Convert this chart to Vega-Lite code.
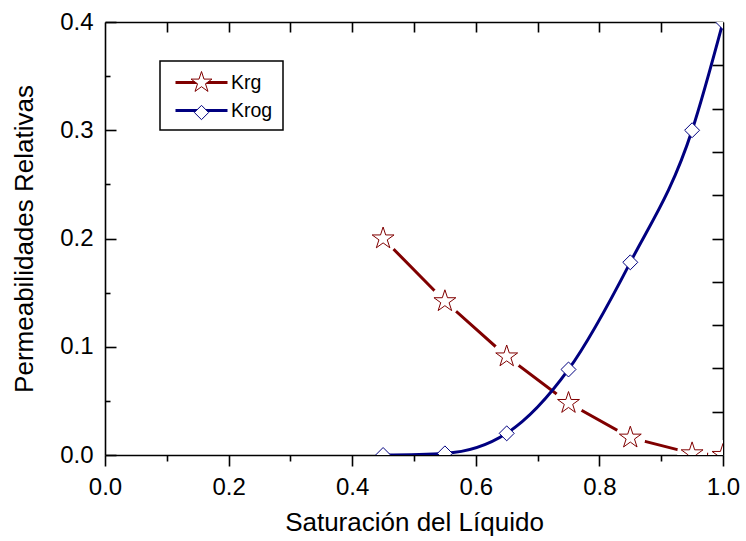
{
  "$schema": "https://vega.github.io/schema/vega-lite/v6.json",
  "autosize": {"type": "none"},
  "padding": {"left": 105, "top": 22, "right": 23, "bottom": 86},
  "width": 618,
  "height": 433,
  "background": "white",
  "data": {
    "values": [
      {"Sl": 0.45, "kr": 0.2, "curva": "Krg"},
      {"Sl": 0.55, "kr": 0.142, "curva": "Krg"},
      {"Sl": 0.65, "kr": 0.091, "curva": "Krg"},
      {"Sl": 0.75, "kr": 0.048, "curva": "Krg"},
      {"Sl": 0.85, "kr": 0.016, "curva": "Krg"},
      {"Sl": 0.95, "kr": 0.0015, "curva": "Krg"},
      {"Sl": 1.0, "kr": 0.0, "curva": "Krg"},
      {"Sl": 0.45, "kr": 0.0, "curva": "Krog"},
      {"Sl": 0.55, "kr": 0.0015, "curva": "Krog"},
      {"Sl": 0.65, "kr": 0.02, "curva": "Krog"},
      {"Sl": 0.75, "kr": 0.079, "curva": "Krog"},
      {"Sl": 0.85, "kr": 0.178, "curva": "Krog"},
      {"Sl": 0.95, "kr": 0.3, "curva": "Krog"},
      {"Sl": 1.0, "kr": 0.4, "curva": "Krog"}
    ]
  },
  "layer": [
    {
      "transform": [{"filter": "datum.curva === 'Krg'"}],
      "mark": {"type": "line", "strokeWidth": 3, "clip": true},
      "encoding": {
        "x": {
          "field": "Sl", "type": "quantitative",
          "scale": {"domain": [0, 1], "nice": false, "zero": false},
          "axis": {
            "title": "Saturación del Líquido", "orient": "bottom",
            "values": [0, 0.2, 0.4, 0.6, 0.8, 1], "format": ".1f",
            "ticks": false, "domain": true, "labelPadding": 20, "titlePadding": 10
          }
        },
        "y": {
          "field": "kr", "type": "quantitative",
          "scale": {"domain": [0, 0.4], "nice": false, "zero": false},
          "axis": {
            "title": "Permeabilidades Relativas", "orient": "left",
            "values": [0, 0.1, 0.2, 0.3, 0.4], "format": ".1f",
            "ticks": false, "domain": true, "labelPadding": 12, "titlePadding": 22
          }
        },
        "color": {
          "field": "curva", "type": "nominal",
          "scale": {"range": ["#800000", "#000080"]},
          "legend": {
            "orient": "none", "legendX": 55, "legendY": 39, "title": null,
            "padding": 10, "strokeColor": "black",
            "symbolType": "M-2.6,0L2.6,0", "symbolSize": 400, "symbolStrokeWidth": 3,
            "symbolOffset": 20, "labelOffset": 18, "labelFont": "Liberation Sans",
            "labelFontSize": 19.5, "labelColor": "black", "rowPadding": 7,
            "encode": {"legend": {"update": {"strokeWidth": {"value": 1.5}}}}
          }
        }
      }
    },
    {
      "transform": [{"filter": "datum.curva === 'Krg'"}],
      "mark": {"type": "point", "shape": "circle", "size": 900, "filled": true, "fill": "white", "strokeWidth": 0, "opacity": 1, "clip": true},
      "encoding": {
        "x": {
          "field": "Sl", "type": "quantitative",
          "axis": {"orient": "bottom", "values": [0, 0.2, 0.4, 0.6, 0.8, 1], "labels": false, "domain": false, "title": null, "tickSize": 11}
        },
        "y": {
          "field": "kr", "type": "quantitative",
          "axis": {"orient": "left", "values": [0, 0.1, 0.2, 0.3, 0.4], "labels": false, "domain": false, "title": null, "tickSize": -11}
        }
      }
    },
    {
      "transform": [{"filter": "datum.curva === 'Krog'"}],
      "mark": {"type": "line", "interpolate": "monotone", "strokeWidth": 3, "clip": true},
      "encoding": {
        "x": {
          "field": "Sl", "type": "quantitative",
          "axis": {"orient": "bottom", "values": [0.1, 0.3, 0.5, 0.7, 0.9], "labels": false, "domain": false, "title": null, "tickSize": 6}
        },
        "y": {
          "field": "kr", "type": "quantitative",
          "axis": {"orient": "left", "values": [0.05, 0.15, 0.25, 0.35], "labels": false, "domain": false, "title": null, "tickSize": -5}
        },
        "color": {
          "field": "curva", "type": "nominal",
          "scale": {"range": ["#800000", "#000080"]},
          "legend": {
            "orient": "none", "legendX": 55, "legendY": 39, "title": null,
            "padding": 10, "strokeColor": "black",
            "symbolType": "M-2.6,0L2.6,0", "symbolSize": 400, "symbolStrokeWidth": 3,
            "symbolOffset": 20, "labelOffset": 18, "labelFont": "Liberation Sans",
            "labelFontSize": 19.5, "labelColor": "black", "rowPadding": 7,
            "encode": {"legend": {"update": {"strokeWidth": {"value": 1.5}}}}
          }
        }
      }
    },
    {
      "mark": {"type": "point", "size": 529, "filled": false, "fill": "white", "strokeWidth": 1, "opacity": 1, "clip": true},
      "encoding": {
        "x": {
          "field": "Sl", "type": "quantitative",
          "axis": {"orient": "top", "values": [0.1, 0.2, 0.3, 0.4, 0.5, 0.6, 0.7, 0.8, 0.9], "labels": false, "domain": true, "title": null, "tickSize": -10}
        },
        "y": {
          "field": "kr", "type": "quantitative",
          "axis": {"orient": "right", "values": [0.04, 0.08, 0.12, 0.16, 0.2, 0.24, 0.28, 0.32, 0.36], "labels": false, "domain": true, "title": null, "tickSize": -11}
        },
        "shape": {
          "field": "curva", "type": "nominal",
          "scale": {"range": [
            "M0,-1L0.2245,-0.309L0.951,-0.309L0.3633,0.118L0.588,0.809L0,0.382L-0.588,0.809L-0.3633,0.118L-0.951,-0.309L-0.2245,-0.309Z",
            "M-0.65,0L0,-0.65L0.65,0L0,0.65Z"
          ]},
          "legend": {
            "orient": "none", "legendX": 55, "legendY": 39, "title": null,
            "padding": 10, "symbolSize": 484, "symbolStrokeWidth": 1,
            "symbolOffset": 20, "labelOffset": 18, "labelFont": "Liberation Sans",
            "labelFontSize": 19.5, "labelOpacity": 0, "labelExpr": "''", "rowPadding": 7,
            "symbolFillColor": "white",
            "encode": {
              "symbols": {
                "update": {
                  "stroke": {"scale": "stroke", "field": "value"},
                  "fill": {"value": "white"}
                }
              }
            }
          }
        },
        "stroke": {
          "field": "curva", "type": "nominal",
          "scale": {"range": ["#800000", "#000080"]},
          "legend": null
        }
      }
    }
  ],
  "resolve": {"axis": {"x": "independent", "y": "independent"}},
  "config": {
    "view": {"stroke": null},
    "axis": {
      "grid": false, "labelFlush": false, "labelOverlap": false,
      "domainColor": "black", "tickColor": "black", "labelColor": "black", "titleColor": "black",
      "labelFont": "Liberation Sans", "titleFont": "Liberation Sans", "titleFontWeight": "normal",
      "labelFontSize": 24, "titleFontSize": 26, "domainWidth": 1.6, "tickWidth": 1.6
    }
  }
}
